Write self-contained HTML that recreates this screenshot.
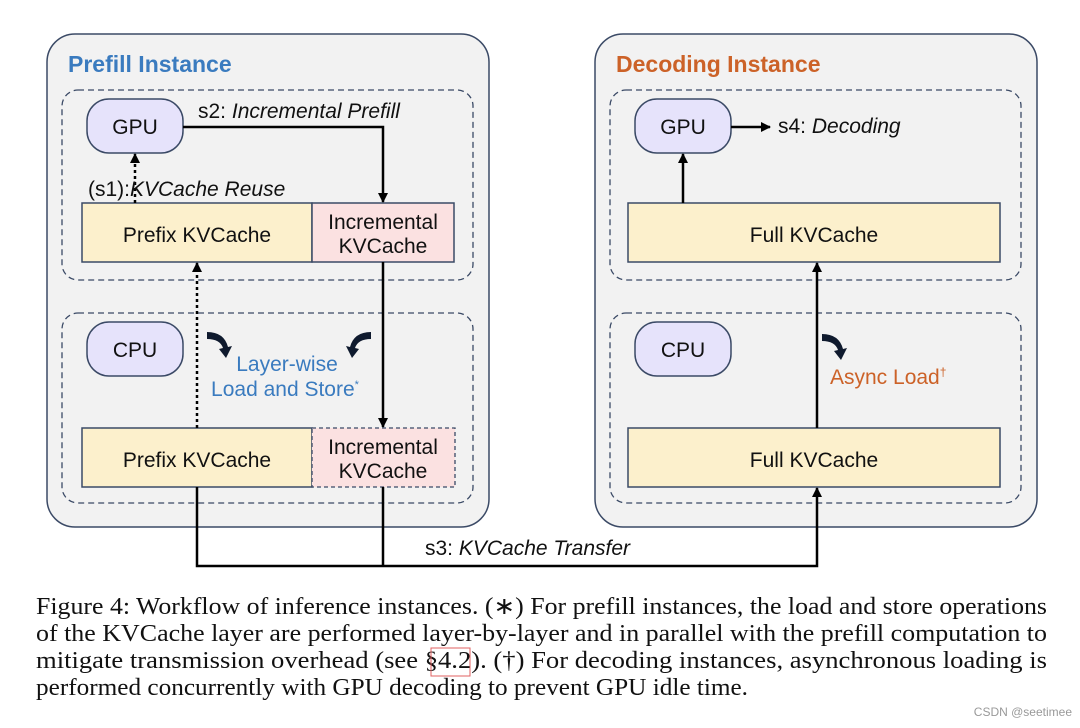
<!DOCTYPE html>
<html><head><meta charset="utf-8"><style>
html,body{margin:0;padding:0;background:#fff;}
svg{display:block;}
.s{font-family:"Liberation Sans",sans-serif;}
.c{font-family:"Liberation Serif",serif;font-size:24px;fill:#111;}
</style></head><body>
<svg width="1080" height="728" viewBox="0 0 1080 728" xmlns="http://www.w3.org/2000/svg">
<defs>
<marker id="a" markerWidth="10" markerHeight="10" refX="9" refY="5" orient="auto" markerUnits="userSpaceOnUse"><path d="M0,0 L10,5 L0,10 z" fill="#000"/></marker>
</defs>
<rect x="47" y="34" width="442" height="493" rx="28" fill="#f2f2f2" stroke="#3b4a66" stroke-width="1.5"/>
<rect x="595" y="34" width="442" height="493" rx="28" fill="#f2f2f2" stroke="#3b4a66" stroke-width="1.5"/>
<text x="68" y="72" class="s" font-size="23" font-weight="bold" fill="#3a7bbf">Prefill Instance</text>
<text x="616" y="72" class="s" font-size="23" font-weight="bold" fill="#cc6228">Decoding Instance</text>
<g fill="none" stroke="#3b4a66" stroke-width="1.3" stroke-dasharray="6,4">
<rect x="62" y="90" width="411" height="190" rx="16"/>
<rect x="62" y="313" width="411" height="190" rx="16"/>
<rect x="610" y="90" width="411" height="190" rx="16"/>
<rect x="610" y="313" width="411" height="190" rx="16"/>
</g>
<g fill="#e6e3fb" stroke="#3b4a66" stroke-width="1.5">
<rect x="87" y="99" width="96" height="54" rx="22"/>
<rect x="87" y="322" width="96" height="54" rx="22"/>
<rect x="635" y="99" width="96" height="54" rx="22"/>
<rect x="635" y="322" width="96" height="54" rx="22"/>
</g>
<g class="s" font-size="21" fill="#111" text-anchor="middle">
<text x="135" y="134">GPU</text><text x="135" y="357">CPU</text>
<text x="683" y="134">GPU</text><text x="683" y="357">CPU</text>
</g>
<g stroke="#3b4a66" stroke-width="1.5">
<rect x="82" y="203" width="230" height="59" fill="#fcf0cc"/>
<rect x="312" y="203" width="142" height="59" fill="#fbe1e1"/>
<rect x="82" y="428" width="230" height="59" fill="#fcf0cc"/>
<rect x="628" y="203" width="372" height="59" fill="#fcf0cc"/>
<rect x="628" y="428" width="372" height="59" fill="#fcf0cc"/>
</g>
<rect x="312" y="428" width="143" height="59" fill="#fbe1e1" stroke="#3b4a66" stroke-width="1.3" stroke-dasharray="4,3"/>
<g class="s" font-size="21" fill="#111" text-anchor="middle">
<text x="197" y="242">Prefix KVCache</text>
<text x="383" y="229">Incremental</text><text x="383" y="253">KVCache</text>
<text x="197" y="467">Prefix KVCache</text>
<text x="383" y="454">Incremental</text><text x="383" y="478">KVCache</text>
<text x="814" y="242">Full KVCache</text>
<text x="814" y="467">Full KVCache</text>
</g>
<g fill="none" stroke="#000" stroke-width="2.5">
<path d="M183,127 H383 V202" marker-end="url(#a)"/>
<path d="M383,262 V427" marker-end="url(#a)"/>
<path d="M135,203 V154" stroke-dasharray="3,3" marker-end="url(#a)"/>
<path d="M197,428 V263" stroke-dasharray="3,3" marker-end="url(#a)"/>
<path d="M197,487 V566 H817 V488" marker-end="url(#a)"/>
<path d="M383,487 V566"/>
<path d="M817,428 V263" marker-end="url(#a)"/>
<path d="M683,203 V154" marker-end="url(#a)"/>
<path d="M731,127 H770" marker-end="url(#a)"/>
</g>
<g fill="#0f1a2e">
<path d="M207,332 Q224,332 228,347 L232,346 L226,358 L219,349 L223,348 Q220,339 207,339 z"/>
<path d="M371,332 Q354,332 350,347 L346,346 L352,358 L359,349 L355,348 Q358,339 371,339 z"/>
<path d="M822,334 Q839,334 843,349 L847,348 L841,360 L834,351 L838,350 Q835,341 822,341 z"/>
</g>
<g class="s" font-size="21">
<text x="198" y="118" fill="#111">s2: <tspan font-style="italic">Incremental Prefill</tspan></text>
<text x="88" y="196" fill="#111">(s1):<tspan font-style="italic">KVCache Reuse</tspan></text>
<text x="778" y="133" fill="#111">s4: <tspan font-style="italic">Decoding</tspan></text>
<text x="425" y="555" fill="#111">s3: <tspan font-style="italic">KVCache Transfer</tspan></text>
<text x="287" y="371" fill="#3a7bbf" text-anchor="middle">Layer-wise</text>
<text x="285" y="396" fill="#3a7bbf" text-anchor="middle">Load and Store<tspan font-size="11" dy="-8">*</tspan></text>
<text x="830" y="384" fill="#cc6228">Async Load<tspan font-size="12" dy="-8">†</tspan></text>
</g>
<text class="c" x="36" y="614" textLength="1011" lengthAdjust="spacingAndGlyphs">Figure 4: Workflow of inference instances. (∗) For prefill instances, the load and store operations</text>
<text class="c" x="36" y="641" textLength="1011" lengthAdjust="spacingAndGlyphs">of the KVCache layer are performed layer-by-layer and in parallel with the prefill computation to</text>
<text class="c" x="36" y="668" textLength="1011" lengthAdjust="spacingAndGlyphs">mitigate transmission overhead (see §4.2). (†) For decoding instances, asynchronous loading is</text>
<text class="c" x="36" y="695" textLength="712" lengthAdjust="spacingAndGlyphs">performed concurrently with GPU decoding to prevent GPU idle time.</text>
<rect x="431" y="648" width="39" height="28" fill="none" stroke="#e06060" stroke-width="1"/>
<text x="1072" y="716" class="s" font-size="12" fill="#999" text-anchor="end">CSDN @seetimee</text>
</svg>
</body></html>
